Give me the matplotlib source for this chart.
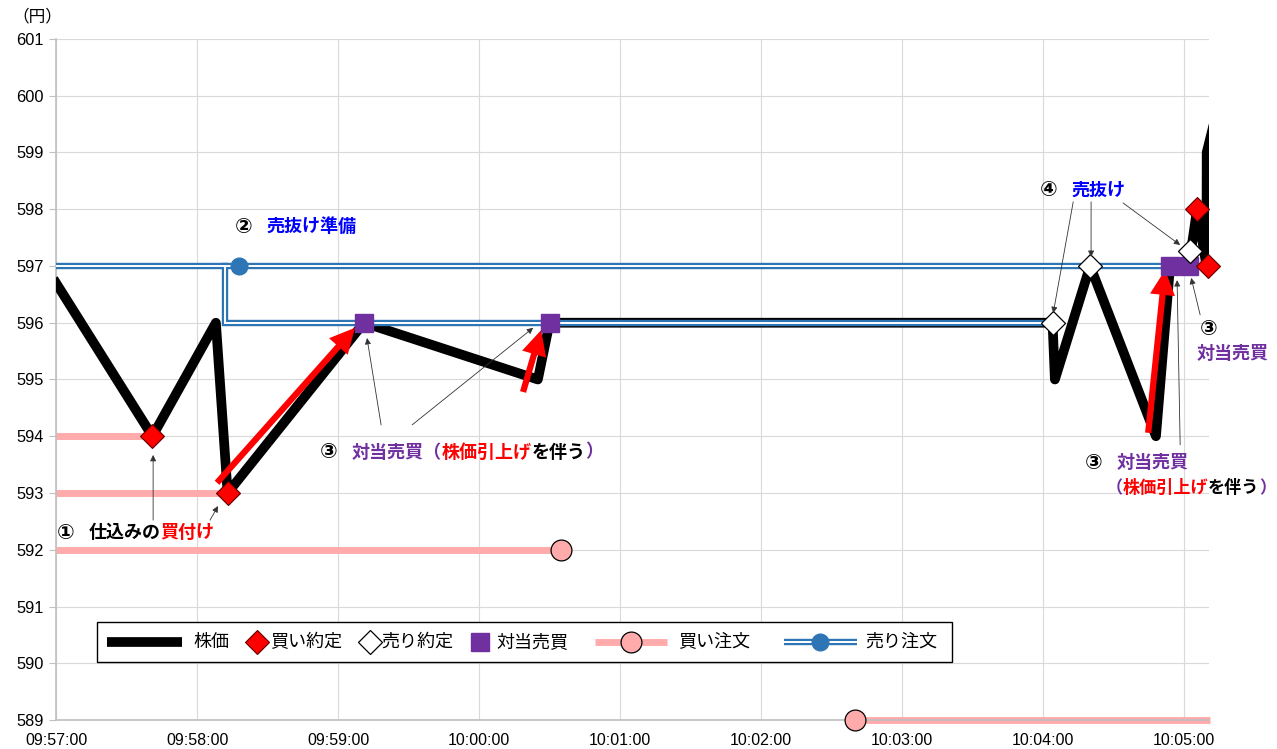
import matplotlib.pyplot as plt
from matplotlib.patches import Rectangle

plt.rcParams["font.family"] = ["Liberation Sans", "Noto Sans CJK JP", "DejaVu Sans"]
JP = ["Noto Sans CJK JP", "DejaVu Sans"]
NUM = ["DejaVu Sans", "Noto Sans CJK JP"]

# 株価の推移
price_times = ["09:57:00", "09:57:41", "09:58:08", "09:58:13", "09:59:11", "10:00:25",
               "10:00:30", "10:04:03", "10:04:04", "10:04:05", "10:04:20", "10:04:48",
               "10:04:54", "10:05:02", "10:05:05.5", "10:05:09.5", "10:05:09.6", "10:05:12"]
prices = [596.7, 594, 596, 593, 596, 595, 596, 596, 596, 595, 597, 594,
          597, 597, 598, 597, 599, 599.4]

# 約定
buy_fill_times = ["09:57:41", "09:58:13", "10:05:05.5", "10:05:10"]
buy_fill_prices = [594, 593, 598, 597]
sell_fill_times = ["10:04:04", "10:04:20", "10:05:02.3"]
sell_fill_prices = [596, 597, 597.27]
cross_times = ["09:59:11", "10:00:30", "10:04:54", "10:05:02"]
cross_prices = [596, 596, 597, 597]

# 買い注文（価格, 開始, 終了）
buy_order_prices = [594, 593, 592, 589]
buy_order_start = ["09:57:00", "09:57:00", "09:57:00", "10:02:40"]
buy_order_end = ["09:57:41", "09:58:13", "10:00:35", "10:05:11"]
buy_mark_times = ["10:00:35", "10:02:40"]
buy_mark_prices = [592, 589]

# 売り注文
sell_a_times = ["09:57:00", "09:58:12", "09:58:12", "10:04:04"]
sell_a_prices = [597, 597, 596, 596]
sell_b_times = ["09:58:12", "09:58:18", "10:05:02"]
sell_b_prices = [597, 597, 597]

tick_labels = ["09:57:00", "09:58:00", "09:59:00", "10:00:00", "10:01:00",
               "10:02:00", "10:03:00", "10:04:00", "10:05:00"]
legend_labels = ["株価", "買い約定", "売り約定", "対当売買", "買い注文", "売り注文"]


def sec(s):
    h, m, rest = s.split(":")
    return (int(h) * 3600 + int(m) * 60 + float(rest)) - (9 * 3600 + 57 * 60)


def secs(lst):
    return [sec(s) for s in lst]


BLUE = "#2e75b6"
PINK = "#ffabab"
PURPLE = "#7030a0"

fig = plt.figure(figsize=(12.77, 7.49), dpi=100)
ax = fig.add_axes([0.0439, 0.0387, 0.9029, 0.9093])
ax.set_xlim(0, sec("10:05:10.6"))
ax.set_ylim(589, 601)

ax.set_xticks(secs(tick_labels))
ax.set_xticklabels(tick_labels)
ax.set_yticks(range(589, 602))
ax.tick_params(axis="x", length=0, pad=9, labelsize=11.5)
ax.tick_params(axis="y", length=5, color="#bfbfbf", pad=4, labelsize=11.8)
ax.grid(True, color="#d9d9d9", lw=0.8)
ax.set_axisbelow(True)
for side in ["top", "right"]:
    ax.spines[side].set_visible(False)
for side in ["left", "bottom"]:
    ax.spines[side].set_color("#bfbfbf")
    ax.spines[side].set_linewidth(1.2)
ax.text(-0.016, 1.032, "（円）", transform=ax.transAxes, ha="center", va="center",
        fontsize=12, family=JP)

# 買い注文
for p, t0, t1 in zip(buy_order_prices, buy_order_start, buy_order_end):
    ax.plot([sec(t0), sec(t1)], [p, p], color=PINK, lw=5, solid_capstyle="butt",
            zorder=2, clip_on=False)
ax.plot(secs(buy_mark_times), buy_mark_prices, "o", ms=15, mfc=PINK, mec="black",
        mew=0.9, zorder=6, clip_on=False)

# 売り注文（二重線）
for xs, ys in [(secs(sell_a_times), sell_a_prices), (secs(sell_b_times), sell_b_prices)]:
    ax.plot(xs, ys, color=BLUE, lw=4.6, zorder=4, solid_joinstyle="miter")
    ax.plot(xs, ys, color="white", lw=1.4, zorder=4.1, solid_joinstyle="miter")
ax.plot(sec(sell_b_times[1]), sell_b_prices[1], "o", ms=12, color=BLUE, zorder=4.2)

# 株価
ax.plot(secs(price_times), prices, color="black", lw=7, zorder=3,
        solid_joinstyle="round")

# 株価引上げの矢印
red_arrows = [(("09:58:08.5", 593.18), ("09:59:07.2", 595.91)),
              (("10:00:18.7", 594.78), ("10:00:26.4", 595.87)),
              (("10:04:44.7", 594.06), ("10:04:51.9", 596.93))]
for (t0, y0), (t1, y1) in red_arrows:
    ax.annotate("", xy=(sec(t1), y1), xytext=(sec(t0), y0),
                arrowprops=dict(facecolor="red", edgecolor="none", width=4.5,
                                headwidth=18, headlength=18, shrink=0),
                zorder=5)

# 約定マーカー
ax.plot(secs(cross_times), cross_prices, "s", ms=13, color=PURPLE, zorder=7, clip_on=False)
ax.plot(secs(buy_fill_times), buy_fill_prices, "D", ms=12, mfc="red", mec="#600000",
        mew=0.8, zorder=8, clip_on=False)
ax.plot(secs(sell_fill_times), sell_fill_prices, "D", ms=12, mfc="white", mec="black",
        mew=0.9, zorder=8, clip_on=False)

# 注記の細い矢印
thin_arrows = [(("09:57:41.3", 592.52), ("09:57:41.3", 593.67)),
               (("09:58:05.5", 592.52), ("09:58:08.9", 592.77)),
               (("09:59:18.3", 594.20), ("09:59:12.3", 595.73)),
               (("09:59:31.5", 594.20), ("10:00:23", 595.91)),
               (("10:04:12.8", 598.13), ("10:04:04.3", 596.17)),
               (("10:04:20.4", 598.13), ("10:04:20.4", 597.16)),
               (("10:04:34", 598.11), ("10:04:58.3", 597.37)),
               (("10:05:06.8", 596.14), ("10:05:03", 596.79)),
               (("10:04:58.3", 593.85), ("10:04:57", 596.75))]
for (t0, y0), (t1, y1) in thin_arrows:
    ax.annotate("", xy=(sec(t1), y1), xytext=(sec(t0), y0),
                arrowprops=dict(arrowstyle="-|>", color="#333333", lw=0.6,
                                mutation_scale=9, shrinkA=0, shrinkB=0),
                zorder=9)


def colored_text(t, y, parts, size=13, num=None):
    """色の違う文字列を横につなげて描く。num があれば先頭に丸数字を置く。"""
    prev = None
    gap = 0
    if num is not None:
        prev = ax.text(sec(t), y, num, ha="left", va="center", fontsize=size + 2,
                       fontweight="bold", family=NUM, zorder=10)
        gap = 10
    for s, c in parts:
        kw = dict(color=c, fontsize=size, fontweight="bold", family=JP, zorder=10)
        if prev is None:
            prev = ax.text(sec(t), y, s, ha="left", va="center", **kw)
        else:
            prev = ax.annotate(s, xy=(1, 0.5), xycoords=prev, xytext=(gap, 0),
                               textcoords="offset points", ha="left", va="center",
                               annotation_clip=False, **kw)
        gap = 0


colored_text("09:57:00.4", 592.3, [("仕込みの", "black"), ("買付け", "red")], num="①")
colored_text("09:58:16.2", 597.69, [("売抜け準備", "blue")], num="②")
colored_text("09:58:52.3", 593.72, [("対当売買（", PURPLE), ("株価引上げ", "red"),
                                    ("を伴う", "black"), ("）", PURPLE)], num="③")
colored_text("10:03:58.7", 598.34, [("売抜け", "blue")], num="④")
colored_text("10:04:17.9", 593.53, [("対当売買", PURPLE)], num="③")
colored_text("10:04:26.5", 593.09, [("（", PURPLE), ("株価引上げ", "red"),
                                    ("を伴う", "black"), ("）", PURPLE)], size=12.3)
ax.text(sec("10:05:10.2"), 595.89, "③", ha="center", va="center", fontsize=15,
        fontweight="bold", family=NUM)
ax.text(sec("10:05:20.8"), 595.45, "対当売買", ha="center", va="center", fontsize=13,
        fontweight="bold", family=JP, color=PURPLE)

# 凡例（軸座標で枠と見本を配置）
lx = [0.0442, 0.1743, 0.2723, 0.3677, 0.4675, 0.6314]   # 見本の左端/中心
tx = [0.1188, 0.1856, 0.2819, 0.3816, 0.5395, 0.7016]   # ラベルの左端
yc = 0.1145
ax.add_patch(Rectangle((0.0356, 0.0852), 0.7415, 0.0587, transform=ax.transAxes,
                       facecolor="white", edgecolor="black", lw=1.0, zorder=11,
                       clip_on=False))
lkw = dict(transform=ax.transAxes, clip_on=False, zorder=12)
ax.plot([lx[0], lx[0] + 0.065], [yc, yc], color="black", lw=7, solid_capstyle="butt", **lkw)
ax.plot(lx[1], yc, "D", ms=12, mfc="red", mec="#600000", mew=0.8, **lkw)
ax.plot(lx[2], yc, "D", ms=12, mfc="white", mec="black", mew=0.9, **lkw)
ax.plot(lx[3], yc, "s", ms=13, color=PURPLE, **lkw)
ax.plot([lx[4], lx[4] + 0.0624], [yc, yc], color=PINK, lw=5, solid_capstyle="butt", **lkw)
ax.plot(lx[4] + 0.0312, yc, "o", ms=15, mfc=PINK, mec="black", mew=0.9, **lkw)
ax.plot([lx[5], lx[5] + 0.0633], [yc, yc], color=BLUE, lw=4.6, solid_capstyle="butt", **lkw)
ax.plot([lx[5], lx[5] + 0.0633], [yc, yc], color="white", lw=1.4, solid_capstyle="butt", **lkw)
ax.plot(lx[5] + 0.0312, yc, "o", ms=12, color=BLUE, **lkw)
for x, lab in zip(tx, legend_labels):
    ax.text(x, yc, lab, transform=ax.transAxes, ha="left", va="center", fontsize=13,
            family=JP, zorder=12)

fig.savefig("out.png", dpi=100)
